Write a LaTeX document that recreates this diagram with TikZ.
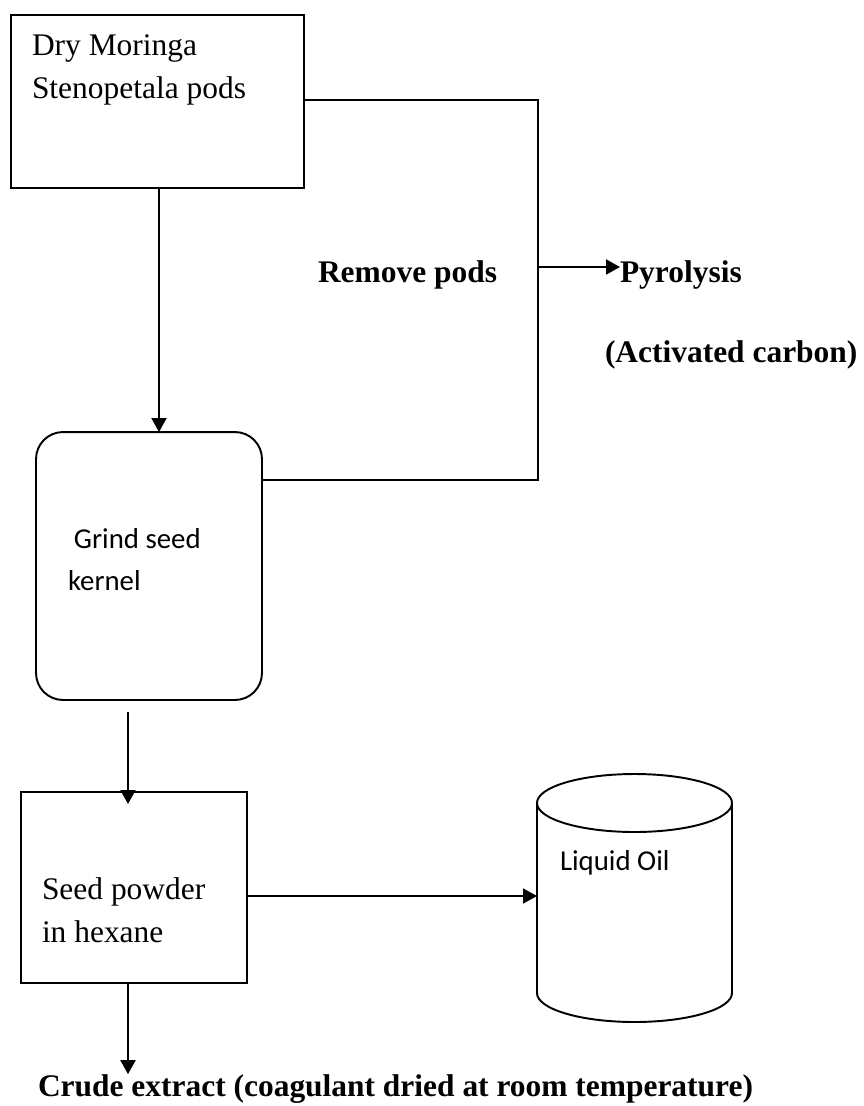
\documentclass[tikz,border=0pt]{standalone}
\usepackage{fontspec}
\setmainfont{Liberation Serif}
\newfontfamily\calibrifont{Carlito}
\usetikzlibrary{arrows.meta}
\newcommand\timesbody{\fontsize{17.9pt}{24.4pt}\selectfont}
\newcommand\calibribody{\calibrifont\fontsize{16.4pt}{23.8pt}\selectfont}

\begin{document}
\begin{tikzpicture}[
    x=0.02cm, y=-0.02cm,
    every node/.style={inner sep=0pt, outer sep=0pt},
    box/.style={rectangle, draw, line width=1.1pt},
    roundbox/.style={box, rounded corners=0.54cm},
    txt/.style={anchor=base west, align=left, font=\timesbody},
    sanstxt/.style={anchor=base west, align=left, font=\calibribody},
    boldtxt/.style={anchor=base west, font=\timesbody\bfseries},
    arrow/.style={-{Triangle[length=2.8mm, width=3mm]}, line width=1.1pt},
    link/.style={line width=1.1pt}
]
\useasboundingbox (0,0) rectangle (864,1106);

% ============ PROCESS BOXES ============
% (multi-line texts sit on the baseline of their last line)
\node[box, minimum width=5.86cm, minimum height=3.46cm] (pods) at (157.5, 101.5) {};
\node[txt] (podstext) at (32, 98) {Dry Moringa\\Stenopetala pods};

\node[roundbox, minimum width=4.52cm, minimum height=5.36cm] (grind) at (149, 566) {};
\node[sanstxt] (grindtext) at (68, 590) {\hspace*{3.4pt}Grind seed\\kernel};

\node[box, minimum width=4.52cm, minimum height=3.82cm] (hexane) at (134, 887.5) {};
\node[txt] (hexanetext) at (42, 942) {Seed powder\\in hexane};

% ============ LIQUID OIL TANK ============
\draw[link] (537, 803) -- (537, 993)
    arc[start angle=180, end angle=0, x radius=97.5, y radius=29] -- (732, 803);
\draw[link] (634.5, 803) ellipse[x radius=97.5, y radius=29];
\node[sanstxt] (oil) at (560, 870) {Liquid Oil};
\coordinate (tankwest) at (537, 896);

% ============ LABELS ============
\node[boldtxt] (remove) at (318, 282) {Remove pods};
\node[boldtxt] (pyro) at (620, 282) {Pyrolysis};
\node[boldtxt] (carbon) at (605, 362) {(Activated carbon)};
\node[boldtxt] (crude) at (38, 1096) {Crude extract (coagulant dried at room temperature)};

% ============ CONNECTORS ============
\coordinate (bendtop) at (538, 100);
\coordinate (bendlow) at (538, 480);
\coordinate (split) at (538, 267);

\draw[link] (pods.east |- bendtop) -- (bendtop) -- (bendlow) -- (grind.east |- bendlow);
\draw[arrow] (split) -- (split -| pyro.west);

\draw[arrow] ([xshift=0.03cm]pods.south) -- ([xshift=0.03cm]pods.south |- grind.north);
\draw[arrow] ([shift={(-21,12)}]grind.south) -- ([shift={(-21,12)}]grind.south |- hexane.north);
\draw[arrow] (hexane.east |- tankwest) -- (tankwest);
\draw[arrow] ([xshift=-0.12cm]hexane.south) -- ([xshift=-0.12cm]hexane.south |- crude.north);

\end{tikzpicture}
\end{document}
